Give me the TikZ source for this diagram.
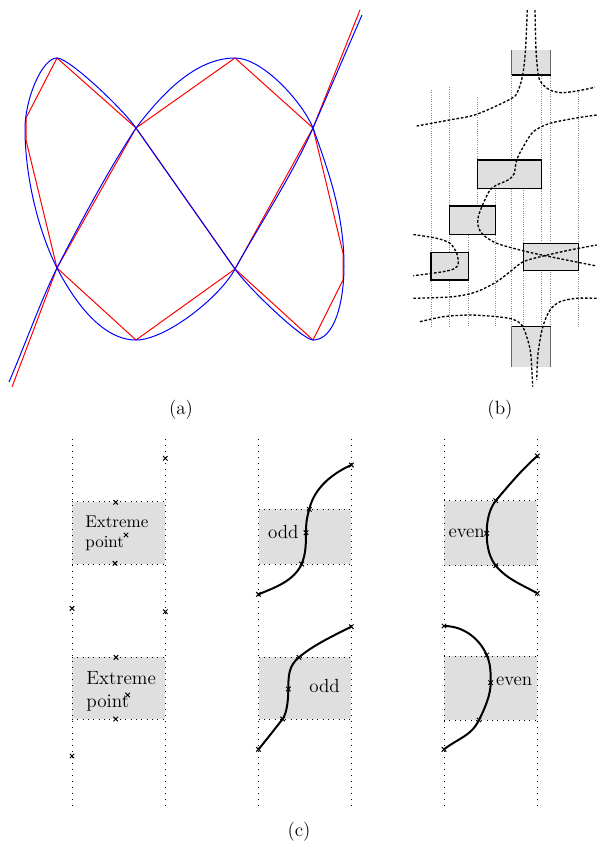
\documentclass[tikz,border=0pt]{standalone}
\begin{document}
\begin{tikzpicture}[x=0.6pt,y=-0.6pt,
  bluecurve/.style={blue, line width=0.6pt},
  redpoly/.style={red, line width=0.6pt},
  guide/.style={black!45, line width=0.45pt, dash pattern=on 0.45pt off 0.9pt},
  strand/.style={line width=0.8pt, dash pattern=on 1.6pt off 1.1pt},
  blockbox/.style={fill=gray!25, draw=black, line width=0.8pt},
  vline/.style={line width=0.6pt, dash pattern=on 0.6pt off 3pt},
  hline/.style={line width=0.6pt, dash pattern=on 0.6pt off 2.6pt},
  thread/.style={line width=1.2pt},
  marks/.style={line width=0.6pt},
  lbl/.style={font=\fontsize{11.5}{14}\selectfont, inner sep=0pt},
  wordA/.style={font=\fontsize{10.2}{12.6}\selectfont, inner sep=0pt, anchor=base west},
  wordB/.style={font=\fontsize{11.5}{14}\selectfont, inner sep=0pt, anchor=base west},
  parity/.style={font=\fontsize{11.4}{14}\selectfont, inner sep=0pt, anchor=west},
]
\useasboundingbox (0,0) rectangle (598,847);

% ---------------- panel (a)
\draw[redpoly] (12,387) -- (57,268) -- (136,128) -- (235,58) -- (313,128) -- (343,253) -- (343,280) -- (313,340) -- (235,269) -- (136,128) -- (57,58) -- (26,118) -- (26,140) -- (57,268) -- (136,340) -- (235,269) -- (313,128) -- (360,10);
\draw[bluecurve] (9,382) .. controls +(16,-37) and +(-16,32) .. (57,268)
 .. controls +(25,-49) and +(-25,38) .. (136,128)
 .. controls +(25,-33) and +(-40,0) .. (235,58)
 .. controls +(28,0) and +(-10,-25) .. (313,128)
 .. controls +(17,47) and +(0,-50) .. (344,266)
 .. controls +(0,35) and +(22,0) .. (313,340)
 .. controls +(-10,0) and +(14,20) .. (235,269)
 -- (136,128)
 .. controls +(-14,-20) and +(12,0) .. (57,58)
 .. controls +(-15,0) and +(0,-30) .. (25,129)
 .. controls +(0,45) and +(-20,-40) .. (57,268)
 .. controls +(16,31) and +(-35,0) .. (136,340)
 .. controls +(30,0) and +(-15,28) .. (235,269)
 .. controls +(22,-40) and +(-20,46) .. (313,128)
 .. controls +(20,-46) and +(-10,23) .. (362,15);
\node[lbl] (la) at (181,410) {(a)};

% ---------------- panel (b)
\foreach \x/\a/\b in {431/90/327, 449.3/87/327, 468.3/235/327, 477.3/97/206, 495.7/188/327, 511.7/76/327, 523.3/188/327, 541.7/76/327, 550.7/76/327, 578.3/92/327}
  \draw[guide] (\x,\a) -- (\x,\b);

% boundary half boxes
\fill[gray!25] (511.7,50) rectangle (550.7,75);
\draw[black!60, line width=0.8pt] (511.7,50) -- (511.7,75) (550.7,50) -- (550.7,75);
\draw[line width=0.8pt] (511.7,75) -- (550.7,75);
\fill[gray!25] (511.7,326.7) rectangle (550.7,366.7);
\draw[black!60, line width=0.8pt] (511.7,326.7) -- (511.7,366.7) (550.7,326.7) -- (550.7,366.7);
\draw[line width=0.8pt] (511.7,326.7) -- (550.7,326.7);
% blocks
\draw[blockbox] (477.3,160) rectangle (541.7,188.3);
\draw[blockbox] (449.3,206) rectangle (495.7,234.3);
\draw[blockbox] (431,252.3) rectangle (468.3,280);
\draw[blockbox] (523.3,243.3) rectangle (578.3,270.7);

% strands
\draw[strand] plot[smooth, tension=0.5] coordinates {(527.3,10) (525.5,50) (522.7,75) (518.3,90) (511.7,98.3) (476.7,114.3) (449.3,120) (416.7,126)};
\draw[strand] plot[smooth, tension=0.5] coordinates {(535,10) (536,50) (538.3,75) (541.7,83.3) (550,90) (561.7,92.7) (578.3,90.7) (595,87.3)};
\draw[strand] plot[smooth, tension=0.5] coordinates {(596.7,115) (578.3,117.7) (550,123.3) (533.3,131.7) (523.3,146.7) (516.7,160) (514,174) (508,180) (496.7,185) (490,190) (483.3,203.3) (478.3,216.7) (478.3,226.7) (483.3,235) (496.7,243.3) (520,250) (541.7,255) (570,260.7) (596.7,266)};
\draw[strand] plot[smooth, tension=0.5] coordinates {(413.3,298.3) (453.3,296.7) (476.7,291.7) (496.7,281.7) (510,271.7) (523.3,261.7) (543.3,256) (570,250) (596.7,245)};
\draw[strand] plot[smooth, tension=0.5] coordinates {(413.3,234.5) (436.7,238.3) (450,243.3) (456.7,253.3) (458.3,263.3) (455,268.3) (443.3,271.7) (413.3,275.7)};
\draw[strand] plot[smooth, tension=0.5] coordinates {(420,321.7) (443.3,316.7) (470,315) (496.7,316.7) (513.3,319.3) (521.7,325) (526.7,336.7) (530.7,353.3) (532.7,386.7)};
\draw[strand] plot[smooth, tension=0.5] coordinates {(596.7,298.3) (576.7,298.3) (560,301.7) (550,310) (543.3,325) (540,340) (537.7,356.7) (536.7,380)};
\node[lbl] (lb) at (500,410) {(b)};

% ---------------- panel (c)
\fill[gray!25] (72,501.7) rectangle (165.3,564);
\fill[gray!25] (72,657.3) rectangle (165.3,719);
\fill[gray!25] (258.5,509.3) rectangle (351.3,564);
\fill[gray!25] (258.5,657.3) rectangle (351.3,719);
\fill[gray!25] (444,500.7) rectangle (537.3,565.7);
\fill[gray!25] (444,656) rectangle (537.3,720);

\foreach \x in {72,165.3,258.5,351.3,444,537.3}
  \draw[vline] (\x,439) -- (\x,806);

\draw[hline] (72,501.7) -- (165.3,501.7) (72,564) -- (165.3,564);
\draw[hline] (72,657.3) -- (165.3,657.3) (72,719) -- (165.3,719);
\draw[hline] (258.5,509.3) -- (351.3,509.3) (258.5,564) -- (351.3,564);
\draw[hline] (258.5,657.3) -- (351.3,657.3) (258.5,719) -- (351.3,719);
\draw[hline] (444,500.7) -- (537.3,500.7) (444,565.7) -- (537.3,565.7);
\draw[hline] (444,656) -- (537.3,656) (444,720) -- (537.3,720);

% curves
\draw[thread] (258.5,594.3) .. controls +(17,-7) and +(-8,17) .. (301.7,564)
  .. controls +(4,-10) and +(0,12) .. (306,532.7)
  .. controls +(0,-8) and +(-3,10) .. (309.3,509.3)
  .. controls +(5,-22) and +(-18,8) .. (351.3,465);
\draw[thread] (258.5,749.3) .. controls +(10,-12) and +(-8,10) .. (282.7,719)
  .. controls +(4,-6) and +(0,12) .. (288.3,689)
  .. controls +(0,-14) and +(-10,8) .. (299,657.3)
  .. controls +(14,-12) and +(-18,9) .. (351.3,626.7);
\draw[thread] (537.3,456) .. controls +(-16,14) and +(12,-14) .. (495.7,500.7)
  .. controls +(-6,8) and +(0,-14) .. (486.7,533.3)
  .. controls +(0,14) and +(-6,-8) .. (495.7,565.7)
  .. controls +(12,14) and +(-16,-9) .. (537.3,593.3);
\draw[thread] (444,626) .. controls +(20,0) and +(-7,-16) .. (486.7,655)
  .. controls +(4,9) and +(0,-10) .. (490.7,682.7)
  .. controls +(0,12) and +(6,-12) .. (479,720)
  .. controls +(-8,16) and +(16,-12) .. (444,749.3);

% texts
\node[wordA] (e1) at (85,527.3) {Extreme};
\node[wordA] (p1) at (85,547.8) {point};
\node[wordB] (e2) at (86,684) {Extreme};
\node[wordB] (p2) at (86,707.7) {point};
\node[parity] (o1) at (267.7,531.5) {odd};
\node[parity] (o2) at (309,686) {odd};
\node[parity] (v1) at (448.3,533.3) {even};
\node[parity] (v2) at (495.7,681.7) {even};

% cross marks
\draw[marks] plot[only marks, mark=x, mark size=1.9pt] coordinates {
 (165.3,458.3) (115.7,502.3) (126,535) (115,563.3) (72,608.3) (165.3,611.7)
 (116,657.3) (127.7,695) (115.7,719) (72,756)
 (258.5,594.3) (301.7,564) (306,532.7) (309.3,509.3) (351.3,465)
 (258.5,749.3) (282.7,719) (288.3,689) (299,657.3) (351.3,626.7)
 (537.3,456) (495.7,500.7) (486.7,533.3) (495.7,565.7) (537.3,593.3)
 (444,626) (486.7,655) (490.7,682.7) (479,720) (444,749.3)};

\node[lbl] (lc) at (299,832) {(c)};
\end{tikzpicture}
\end{document}
